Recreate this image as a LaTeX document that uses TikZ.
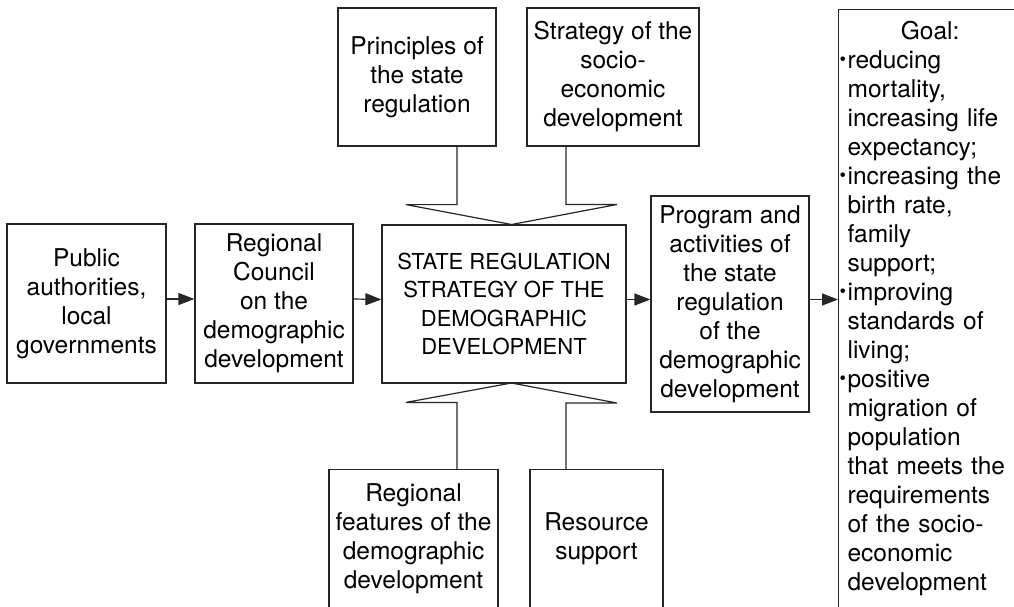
\documentclass[tikz,border=0pt]{standalone}
\usepackage{fontspec}
\setmainfont{TeX Gyre Heros}
\usetikzlibrary{arrows.meta}

% small bullet hanging in the left margin
\newcommand{\gbul}{\leavevmode\llap{\raisebox{0.1em}{\scalebox{0.75}{\textbullet}}\hspace{1.5pt}}}

\begin{document}
\begin{tikzpicture}[x=1pt,y=-1pt,line width=1.2pt]
  \tikzstyle{box}=[draw=black!85,rectangle,inner sep=0pt,align=center,text=black,font=\fontsize{24.5}{29}\selectfont]
  \tikzstyle{edge}=[draw=black!85]
  \tikzstyle{arr}=[draw=black!85,-{Triangle[length=16pt,width=12pt]}]

  \path[use as bounding box,clip] (0,0) rectangle (1014,606);

  % main chain
  \node[box,minimum width=159pt,minimum height=159pt] (pub) at (86.5,303.5) {Public\\authorities,\\local\\governments};
  \node[box,minimum width=158pt,minimum height=159pt] (council) at (274,303.5) {Regional\\Council\\on the\\demographic\\development};
  \node[box,minimum width=244pt,minimum height=158pt,font=\fontsize{22}{28.3}\selectfont] (center) at (504,304) {STATE REGULATION\\STRATEGY OF THE\\DEMOGRAPHIC\\DEVELOPMENT};
  \node[box,minimum width=158pt,minimum height=216pt] (prog) at (730,304) {Program and\\activities of\\the state\\regulation\\of the\\demographic\\development};

  % inputs from above and below
  \node[box,minimum width=158pt,minimum height=138pt] (princ) at (417,77) {Principles of\\the state\\regulation};
  \node[box,minimum width=172pt,minimum height=138pt] (strat) at (613,77) {Strategy of the\\socio-\\economic\\development};
  \node[box,minimum width=169pt,minimum height=138pt] (features) at (413.5,538.5) {Regional\\features of the\\demographic\\development};
  \node[box,minimum width=133pt,minimum height=138pt] (resource) at (596.5,538.5) {Resource\\support};

  % goal
  \node[box,anchor=north west,align=left,text width=165pt,inner xsep=9pt,inner ysep=11.5pt,text depth=600pt] (goal) at (838,9)
    {\makebox[\linewidth]{Goal:}\\
     \gbul reducing\\ mortality,\\ increasing life\\ expectancy;\\
     \gbul increasing the\\ birth rate,\\ family\\ support;\\
     \gbul improving\\ standards of\\ living;\\
     \gbul positive\\ migration of\\ population\\ that meets the\\ requirements\\ of the socio-\\ economic\\ development};

  % arrows
  \foreach \a/\b in {pub/council,council/center,center/prog}
    \draw[arr] ([yshift=4.5pt]\a.east) -- ([yshift=4.5pt]\b.west);
  \coordinate (po) at ([yshift=4.5pt]prog.east);
  \draw[arr] (po) -- (po -| goal.west);

  % hollow arrows
  \coordinate (tin) at (511.5,224.5);
  \coordinate (bin) at (511.5,383);
  \path[edge] ([xshift=40pt]princ.south) -- ++(0,58) -- ++(-51,0) -- (tin) -- ++(105.5,-20) -- ++(-51,0) -- ([xshift=-47pt]strat.south);
  \path[edge] ([xshift=43.5pt]features.north) -- ++(0,-66.5) -- ++(-51,0) -- (bin) -- ++(105.5,20) -- ++(-51,0) -- ([xshift=-30.5pt]resource.north);
\end{tikzpicture}
\end{document}
